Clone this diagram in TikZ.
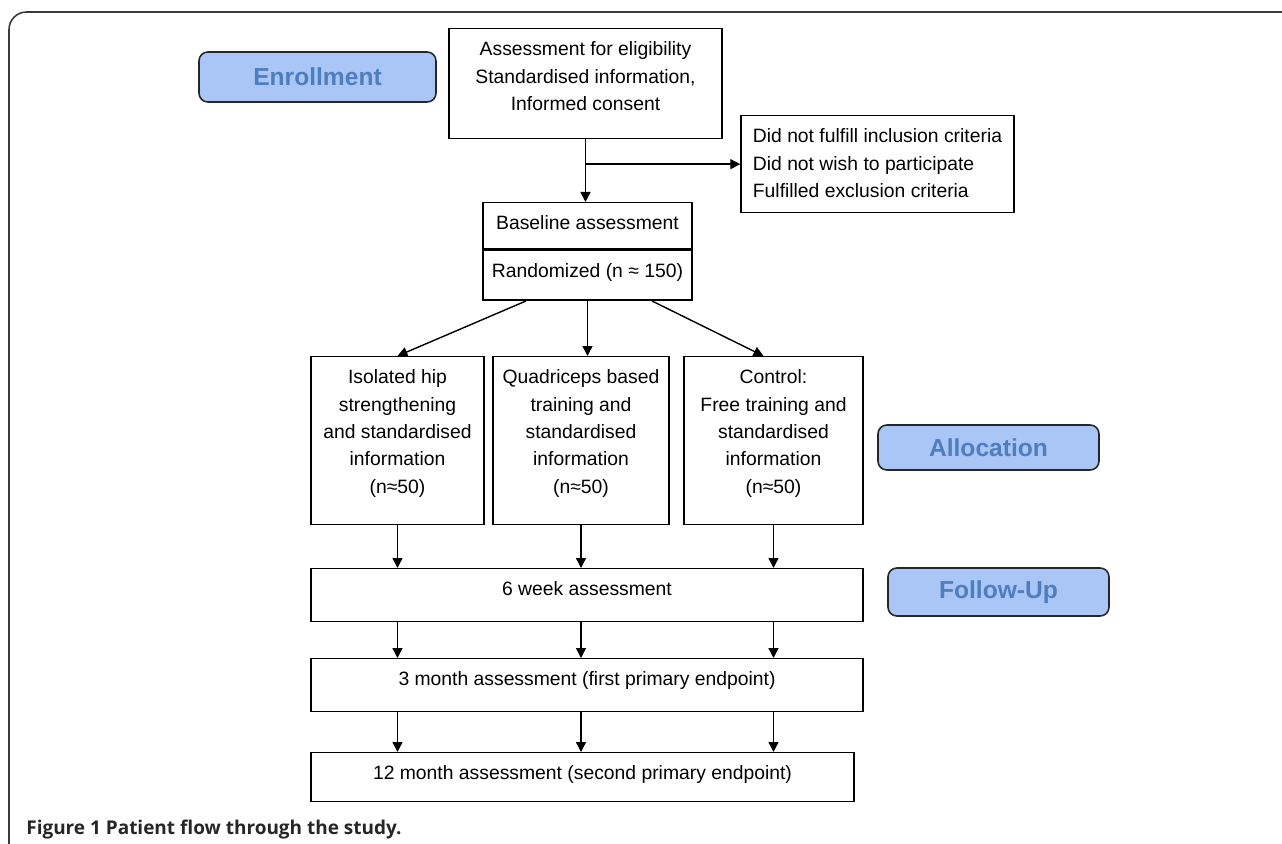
\documentclass[tikz,border=0pt]{standalone}
\usepackage{fontspec}
\setmainfont{Liberation Sans}
\newfontfamily\capfont{Open Sans}
\usetikzlibrary{arrows.meta,positioning}
\definecolor{labelfill}{HTML}{A9C6F7}
\definecolor{labeltext}{HTML}{4F7EBF}
\definecolor{framegray}{HTML}{3A3A3A}

\begin{document}
\begin{tikzpicture}[x=0.02cm,y=-0.02cm,
  >={Triangle[length=0.2cm,width=0.2cm]},
  every node/.style={font=\fontsize{11pt}{15.6pt}\selectfont},
  box/.style={draw,line width=0.85pt,anchor=north,align=center,inner xsep=2pt,inner ysep=0.26cm},
  stage/.style={draw=black!85,line width=0.9pt,rounded corners=5pt,fill=labelfill,text=labeltext,
    font=\fontsize{14pt}{16pt}\selectfont\bfseries},
  flow/.style={->,line width=0.8pt}]
  \useasboundingbox (0,0) rectangle (1282,844);
  \draw[framegray,line width=0.9pt,rounded corners=10pt] (9,844) -- (9,12) -- (1282,12);

  \node[box,minimum width=5.46cm,text depth=0.3cm] (elig) at (585.5,28)
    {Assessment for eligibility\\Standardised information,\\Informed consent};
  \node[box,minimum width=5.46cm,align=left,text depth=0.04cm] (excl) at (877.5,115)
    {Did not fulfill inclusion criteria\\Did not wish to participate\\Fulfilled exclusion criteria};
  \node[box,minimum width=4.18cm,text depth=0.12cm] (base) at (587.5,202) {Baseline assessment};
  \node[box,minimum width=4.18cm,text depth=0.2cm,below=0pt of base] (rand) {Randomized (n ≈ 150)};

  \node[box,minimum width=3.46cm,text depth=0.36cm] (hip) at (397.5,356)
    {Isolated hip\\strengthening\\and standardised\\information\\(n≈50)};
  \node[box,minimum width=3.52cm,text depth=0.36cm] (quad) at (581,356)
    {Quadriceps based\\training and\\standardised\\information\\(n≈50)};
  \node[box,minimum width=3.58cm,text depth=0.36cm] (ctrl) at (773.5,356)
    {Control:\\Free training and\\standardised\\information\\(n≈50)};

  \node[box,minimum width=11.04cm,text depth=0.26cm] (wk6) at (587,568) {6 week assessment};
  \node[box,minimum width=11.04cm,text depth=0.26cm] (mo3) at (587,658)
    {3 month assessment (first primary endpoint)};
  \node[box,minimum width=10.86cm,text depth=0.18cm] (mo12) at (582.5,752)
    {12 month assessment (second primary endpoint)};

  \node[stage,minimum width=4.74cm,minimum height=1cm] (enrol) at (317.5,77) {Enrollment};
  \node[stage,minimum width=4.42cm,minimum height=0.9cm] (alloc) at (988.5,447.5) {Allocation};
  \node[stage,minimum width=4.42cm,minimum height=0.96cm] (follow) at (998.5,592) {Follow-Up};

  \node[anchor=west,inner sep=0pt,text=black!85,font=\capfont\fontsize{10.8pt}{12pt}\selectfont\bfseries]
    (caption) at (26,830) {Figure 1 Patient flow through the study.};

  \draw[flow] (elig.south) -- (elig.south |- base.north);
  \coordinate (split) at (elig.south |- excl.west);
  \draw[flow] (split) -- (excl.west);
  \draw[flow] ([xshift=-1.23cm]rand.south) -- (hip.north);
  \draw[flow] (rand.south) -- (rand.south |- quad.north);
  \draw[flow] ([xshift=1.29cm]rand.south) -- ([xshift=-0.2cm]ctrl.north);
  \foreach \arm in {hip,quad,ctrl} {
    \draw[flow] (\arm.south) -- (\arm.south |- wk6.north);
    \draw[flow] (wk6.south -| \arm.south) -- (mo3.north -| \arm.south);
    \draw[flow] (mo3.south -| \arm.south) -- (mo12.north -| \arm.south);
  }
\end{tikzpicture}
\end{document}
